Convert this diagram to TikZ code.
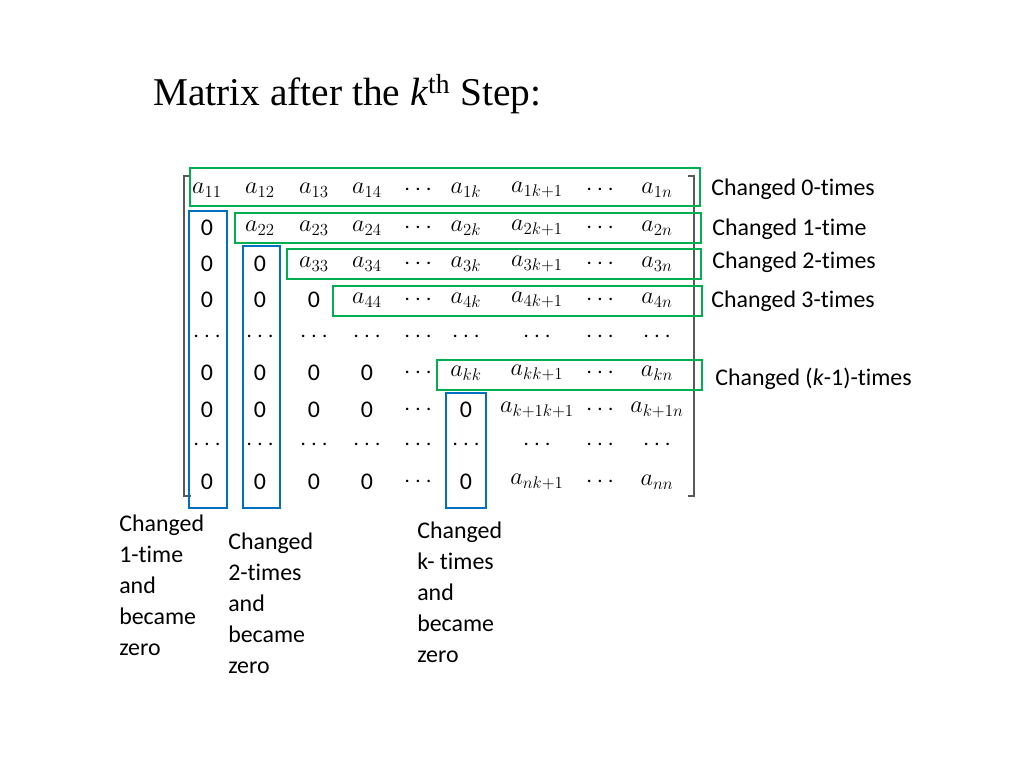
\documentclass[tikz,border=0pt]{standalone}
\usepackage{fontspec}
\setmainfont[Ligatures={NoCommon}]{Carlito}
\newfontfamily\titlefont{Liberation Serif}
\usetikzlibrary{positioning}
\definecolor{boxgreen}{RGB}{0,176,80}
\definecolor{boxblue}{RGB}{0,112,192}
\tikzstyle{EntryNode}=[inner sep=0pt, font=\fontsize{17}{17}\selectfont]
\tikzstyle{LabelNode}=[anchor=west, inner sep=0pt, font=\fontsize{17}{22}\selectfont]
\tikzstyle{NoteNode}=[anchor=north west, inner sep=0pt, align=left, font=\fontsize{17}{22}\selectfont]
\tikzstyle{RowBox}=[draw=boxgreen, line width=1.6pt]
\tikzstyle{ColBox}=[draw=boxblue, line width=1.6pt]
\newcommand{\dts}{$\cdots$}
\begin{document}
\begin{tikzpicture}[x=0.025cm, y=-0.025cm]
    \useasboundingbox (0,0) rectangle (1024,768);
    \node (title) [anchor=west, inner sep=0pt, font=\titlefont\fontsize{28}{28}\selectfont] at (153,94) {Matrix after the \textit{k}\textsuperscript{th} Step:};

    % matrix entries
    \foreach \y/\row [count=\r] in {
      190/{$a_{11}$,$a_{12}$,$a_{13}$,$a_{14}$,\dts,$a_{1k}$,$a_{1k+1}$,\dts,$a_{1n}$},
      228/{0,$a_{22}$,$a_{23}$,$a_{24}$,\dts,$a_{2k}$,$a_{2k+1}$,\dts,$a_{2n}$},
      264/{0,0,$a_{33}$,$a_{34}$,\dts,$a_{3k}$,$a_{3k+1}$,\dts,$a_{3n}$},
      300/{0,0,0,$a_{44}$,\dts,$a_{4k}$,$a_{4k+1}$,\dts,$a_{4n}$},
      337/{\dts,\dts,\dts,\dts,\dts,\dts,\dts,\dts,\dts},
      373/{0,0,0,0,\dts,$a_{kk}$,$a_{kk+1}$,\dts,$a_{kn}$},
      410/{0,0,0,0,\dts,0,$a_{k+1k+1}$,\dts,$a_{k+1n}$},
      445/{\dts,\dts,\dts,\dts,\dts,\dts,\dts,\dts,\dts},
      482/{0,0,0,0,\dts,0,$a_{nk+1}$,\dts,$a_{nn}$}} {
      \foreach \e [count=\c] in \row {
        \pgfmathsetmacro{\xx}{{207,260,314,367,418,466,537,600,657}[\c-1]}
        \node (m\r\c) [EntryNode] at (\xx,\y) {\e};
      }
    }

    % brackets
    \draw [gray!70!black, line width=0.8pt] (191,176) -- (184,176) -- (184,496) -- (191,496);
    \draw [gray!70!black, line width=0.8pt] (688,176) -- (694,176) -- (694,496) -- (688,496);

    % rows
    \draw [RowBox] (190,168) rectangle (700,206);
    \draw [RowBox] (235,213) rectangle (701,243);
    \draw [RowBox] (287,249) rectangle (701,279);
    \draw [RowBox] (333,286) rectangle (702,316);
    \draw [RowBox] (437,360) rectangle (702,390);

    % columns
    \draw [ColBox] (189,211) rectangle (227,508);
    \draw [ColBox] (243,246) rectangle (280,508);
    \draw [ColBox] (446,393) rectangle (486,508);

    \node (lab0) [LabelNode] at (711,189) {Changed 0-times};
    \node (lab1) [LabelNode] at (712,229) {Changed 1-time};
    \node (lab2) [LabelNode] at (712,262) {Changed 2-times};
    \node (lab3) [LabelNode] at (711,301) {Changed 3-times};
    \node (labk) [LabelNode] at (715,379) {Changed (\textit{k}-1)-times};

    \node (note1) [NoteNode] at (119,515) {Changed\\1-time\\and\\became\\zero};
    \node (note2) [NoteNode] at (228,533) {Changed\\2-times\\and\\became\\zero};
    \node (notek) [NoteNode] at (417,522) {Changed\\k- times\\and\\became\\zero};
\end{tikzpicture}
\end{document}
